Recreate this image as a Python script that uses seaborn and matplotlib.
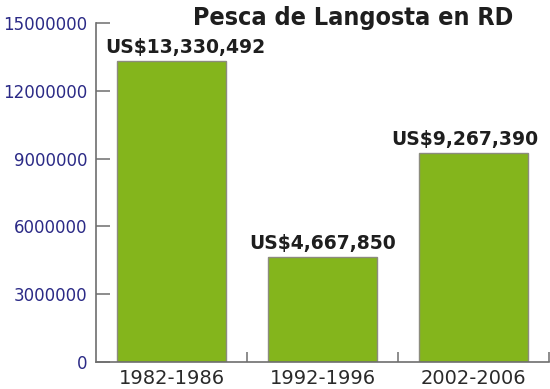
import matplotlib
matplotlib.use("Agg")
import matplotlib.pyplot as plt
import seaborn as sns
import pandas as pd
from matplotlib.ticker import FixedLocator

periods = ["1982-1986", "1992-1996", "2002-2006"]
values = [13330492, 4667850, 9267390]
value_labels = ["US$13,330,492", "US$4,667,850", "US$9,267,390"]
yticks = [0, 3000000, 6000000, 9000000, 12000000, 15000000]

sns.set_theme(style="white")
plt.rcParams['font.family'] = ['DejaVu Sans']

df = pd.DataFrame({"period": periods, "value": values})

fig = plt.figure(figsize=(5.5, 3.89), dpi=100)
ax = fig.add_axes([96/550, 1-362/389, (549-96)/550, (362-23)/389])

sns.barplot(data=df, x="period", y="value", ax=ax, color="#84b51c",
            saturation=1, width=0.72, edgecolor="#8c8c7e", linewidth=1.0)

ax.set_xlim(-0.5, 2.5)
ax.set_ylim(0, 15000000)
ax.set_yticks(yticks)
ax.set_yticklabels([str(v) for v in yticks])
ax.set_xlabel("")
ax.set_ylabel("")

for s in ["top", "right"]:
    ax.spines[s].set_visible(False)
for s in ["left", "bottom"]:
    ax.spines[s].set_color("#6e6e6e")
    ax.spines[s].set_linewidth(1.2)

ax.tick_params(axis="y", direction="in", length=10, width=1.1, color="#6e6e6e",
               labelsize=12, labelcolor="#2b2a86", pad=6, left=True)
ax.tick_params(axis="x", which="major", length=0, labelsize=14,
               labelcolor="#2a2a2a", pad=5)
ax.xaxis.set_minor_locator(FixedLocator([0.5, 1.5, 2.5]))
ax.tick_params(axis="x", which="minor", direction="in", length=7, width=1.1,
               color="#6e6e6e", bottom=True)

label_shift_pt = [10, 0, -6]
for i, (v, lab) in enumerate(zip(values, value_labels)):
    ax.annotate(lab, xy=(i, v), xytext=(label_shift_pt[i], 5.5),
                textcoords="offset points",
                ha="center", va="baseline", fontsize=13.5, fontweight="bold",
                color="#1e1e1e")

fig.text(513/550, 1-25/389, "Pesca de Langosta en RD", ha="right", va="baseline",
         fontsize=18, fontweight="bold", color="#1e1e1e", fontstretch="condensed",
         family=["DejaVu Sans"])

fig.savefig("out.png", dpi=100)
